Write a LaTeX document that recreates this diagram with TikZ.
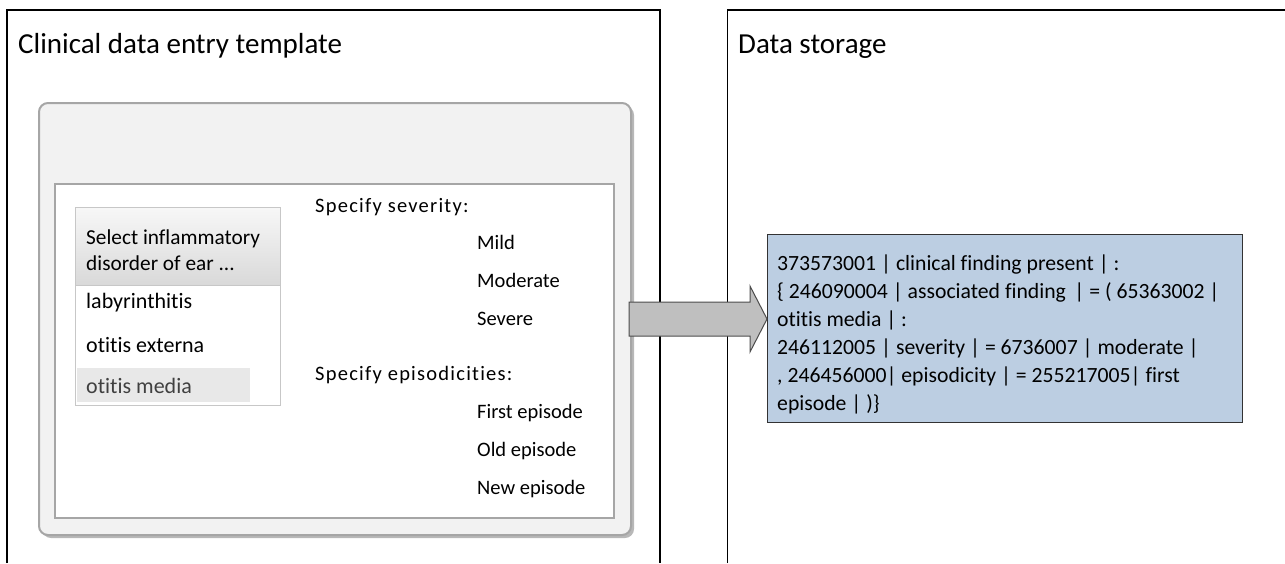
\documentclass[tikz,border=0pt]{standalone}
\usepackage{fontspec}
\setmainfont{Carlito}[Ligatures=NoCommon]
\newfontfamily\widefont[LetterSpace=6,Ligatures=NoCommon]{Carlito}
\usetikzlibrary{calc,positioning,shadows}
\definecolor{panelgray}{RGB}{242,242,242}
\definecolor{framegray}{RGB}{166,166,166}
\definecolor{storeblue}{RGB}{188,206,226}
\definecolor{arrowgray}{RGB}{191,191,191}

\begin{document}
\begin{tikzpicture}[x=1pt, y=-1pt,
    title/.style={anchor=base west, inner sep=0pt, font=\fontsize{29}{34}\selectfont},
    txt/.style={anchor=base west, inner sep=0pt, font=\fontsize{20.5}{24}\selectfont},
    ask/.style={anchor=base west, inner sep=0pt, font=\widefont\fontsize{20.5}{24}\selectfont},
    item/.style={anchor=base west, inner sep=0pt, font=\fontsize{22}{25}\selectfont},
    frame/.style={draw=framegray, anchor=north west, inner sep=0pt},
    blockarr/.style={draw=black!70, fill=arrowgray, line width=1pt}]
  \useasboundingbox (0,0) rectangle (1285,563);
  \draw[line width=1.2pt] (7,563) -- (7,10) -- (660,10) -- (660,563);
  \draw[line width=1.2pt] (727.5,563) -- (727.5,10) -- (1285,10);
  \node[title] (ttl) at (18,53) {Clinical data entry template};
  \node[title] (sttl) at (738,53) {Data storage};
  % entry form
  \node[frame, fill=panelgray, line width=2pt, rounded corners=9pt,
        drop shadow={shadow xshift=3pt, shadow yshift=-3pt, fill=black!28, opacity=1},
        minimum width=592pt, minimum height=432pt] (tmpl) at (38,102) {};
  \node[frame, fill=white, line width=1.5pt, minimum width=559pt, minimum height=334pt] (form) at (54,183) {};
  \node[frame, draw=black!22, fill=white, minimum width=205pt, minimum height=198pt] (list) at (75,207) {};
  \node[frame, draw=black!22, top color=black!3, bottom color=black!15,
        minimum width=205pt, minimum height=78pt] (head) at (75,207) {};
  \node[frame, draw=none, fill=black!9, minimum width=173pt, minimum height=34pt] (sel) at (77,368) {};
  \node[anchor=base west, inner sep=0pt, font=\fontsize{21.3}{24}\selectfont] (hd1) at (86,244) {Select inflammatory};
  \node[anchor=base west, inner sep=0pt, font=\fontsize{21.3}{24}\selectfont] (hd2) at (86,270) {disorder of ear ...};
  \node[item] (lab) at (86,308) {labyrinthitis};
  \node[item] (ext) at (86,352) {otitis externa};
  \node[item, text=black!75] (med) at (86,393) {otitis media};
  \node[ask] (sev) at (315,212) {Specify severity:};
  \node[txt] (mild) at (477,249) {Mild};
  \node[txt] (mod) at (477,287) {Moderate};
  \node[txt] (svr) at (477,325) {Severe};
  \node[ask] (epi) at (315,380) {Specify episodicities:};
  \node[txt] (first) at (477,418) {First episode};
  \node[txt] (old) at (477,456) {Old episode};
  \node[txt] (new) at (477,494) {New episode};
  % storage
  \node[frame, draw=black!80, fill=storeblue, line width=1pt,
        minimum width=475pt, minimum height=188pt] (store) at (767,234) {};
  \node[anchor=west, inner sep=0pt, align=left, font=\fontsize{21.7}{28}\selectfont] (code)
    at ($(store.west)+(10,6)$)
    {373573001 | clinical finding present | :\\
     \{ 246090004 | associated finding\, | = ( 65363002 |\\
     otitis media | :\\
     246112005 | severity | = 6736007 | moderate |\\
     , 246456000| episodicity | = 255217005| first\\
     episode | )\}};
  \coordinate (tail) at ($(tmpl.east)+(-3,0)$);
  \coordinate (tip) at (store.west |- tail);
  \draw[blockarr] ($(tail)+(0,-17)$) -- ($(tip)+(-17,-17)$) -- ($(tip)+(-17,-33)$) -- (tip)
    -- ($(tip)+(-17,33)$) -- ($(tip)+(-17,17)$) -- ($(tail)+(0,17)$) -- cycle;
\end{tikzpicture}
\end{document}
